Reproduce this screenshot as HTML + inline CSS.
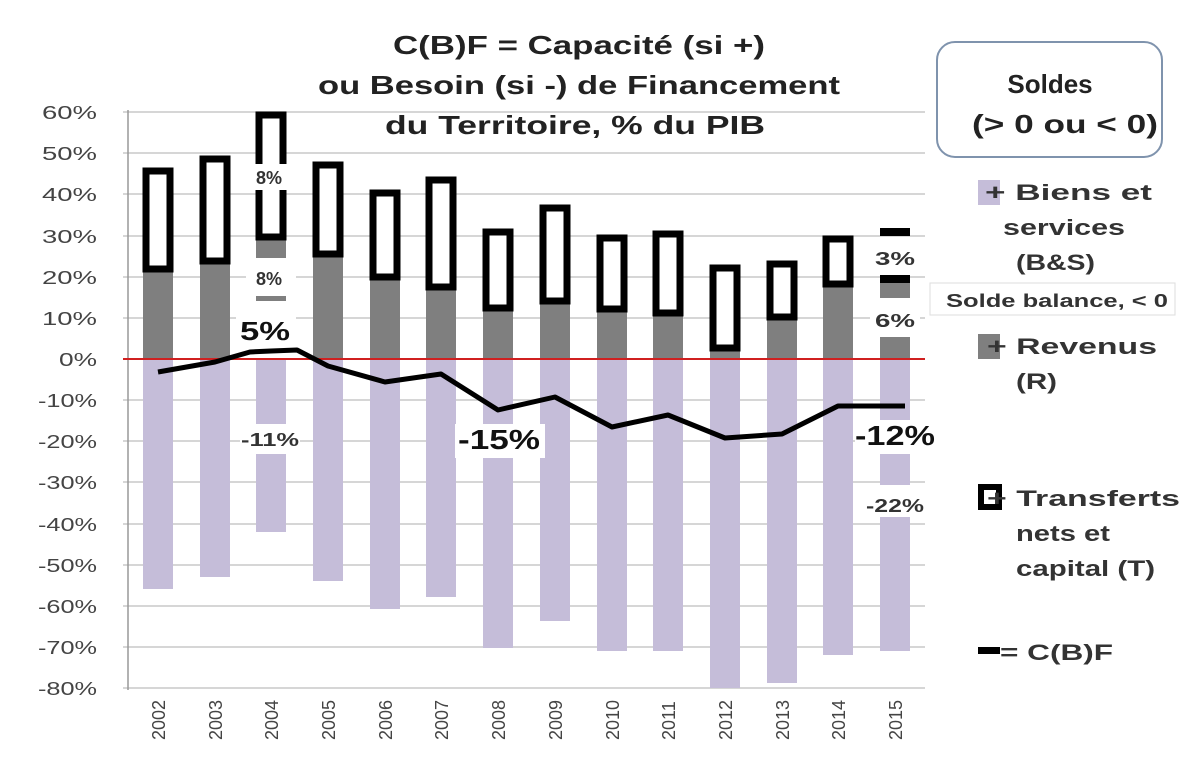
<!DOCTYPE html>
<html><head><meta charset="utf-8"><style>
body{margin:0;background:#fff;}
svg text{font-family:"Liberation Sans",sans-serif;}
</style></head><body>
<svg width="1200" height="772" viewBox="0 0 1200 772" xmlns="http://www.w3.org/2000/svg">
<rect width="1200" height="772" fill="#fff"/>
<g stroke="#c8c8c8" stroke-width="1.5">
<line x1="123" y1="112" x2="925" y2="112"/><line x1="123" y1="153" x2="925" y2="153"/>
<line x1="123" y1="194" x2="925" y2="194"/><line x1="123" y1="236" x2="925" y2="236"/>
<line x1="123" y1="277" x2="925" y2="277"/><line x1="123" y1="318" x2="925" y2="318"/>
<line x1="123" y1="400" x2="925" y2="400"/><line x1="123" y1="441" x2="925" y2="441"/>
<line x1="123" y1="482" x2="925" y2="482"/><line x1="123" y1="524" x2="925" y2="524"/>
<line x1="123" y1="565" x2="925" y2="565"/><line x1="123" y1="606" x2="925" y2="606"/>
<line x1="123" y1="647" x2="925" y2="647"/><line x1="123" y1="688" x2="925" y2="688"/>
</g>
<line x1="128" y1="110" x2="128" y2="690" stroke="#999" stroke-width="1.5"/>
<g font-size="18" fill="#444" text-anchor="end">
<text x="97" y="119" textLength="55" lengthAdjust="spacingAndGlyphs">60%</text><text x="97" y="160" textLength="55" lengthAdjust="spacingAndGlyphs">50%</text><text x="97" y="201" textLength="55" lengthAdjust="spacingAndGlyphs">40%</text>
<text x="97" y="243" textLength="55" lengthAdjust="spacingAndGlyphs">30%</text><text x="97" y="284" textLength="55" lengthAdjust="spacingAndGlyphs">20%</text><text x="97" y="325" textLength="55" lengthAdjust="spacingAndGlyphs">10%</text>
<text x="97" y="366" textLength="38" lengthAdjust="spacingAndGlyphs">0%</text><text x="97" y="407" textLength="59" lengthAdjust="spacingAndGlyphs">-10%</text><text x="97" y="448" textLength="59" lengthAdjust="spacingAndGlyphs">-20%</text>
<text x="97" y="489" textLength="59" lengthAdjust="spacingAndGlyphs">-30%</text><text x="97" y="531" textLength="59" lengthAdjust="spacingAndGlyphs">-40%</text><text x="97" y="572" textLength="59" lengthAdjust="spacingAndGlyphs">-50%</text>
<text x="97" y="613" textLength="59" lengthAdjust="spacingAndGlyphs">-60%</text><text x="97" y="654" textLength="59" lengthAdjust="spacingAndGlyphs">-70%</text><text x="97" y="695" textLength="59" lengthAdjust="spacingAndGlyphs">-80%</text>
</g>
<g fill="#c5bdd9">
<rect x="143" y="359" width="30" height="230"/><rect x="200" y="359" width="30" height="218"/>
<rect x="256" y="359" width="30" height="173"/><rect x="313" y="359" width="30" height="222"/>
<rect x="370" y="359" width="30" height="250"/><rect x="426" y="359" width="30" height="238"/>
<rect x="483" y="359" width="30" height="289"/><rect x="540" y="359" width="30" height="262"/>
<rect x="597" y="359" width="30" height="292"/><rect x="653" y="359" width="30" height="292"/>
<rect x="710" y="359" width="30" height="329"/><rect x="767" y="359" width="30" height="324"/>
<rect x="823" y="359" width="30" height="296"/><rect x="880" y="359" width="30" height="292"/>
</g>
<g fill="#7f7f7f">
<rect x="143" y="272" width="30" height="87"/><rect x="200" y="264" width="30" height="95"/>
<rect x="256" y="240" width="30" height="18"/><rect x="313" y="257" width="30" height="102"/>
<rect x="370" y="280" width="30" height="79"/><rect x="426" y="290" width="30" height="69"/>
<rect x="483" y="311" width="30" height="48"/><rect x="540" y="304" width="30" height="55"/>
<rect x="597" y="312" width="30" height="47"/><rect x="653" y="316" width="30" height="43"/>
<rect x="710" y="351" width="30" height="8"/><rect x="767" y="320" width="30" height="39"/>
<rect x="823" y="287" width="30" height="72"/><rect x="880" y="277" width="30" height="21"/>
<rect x="880" y="337" width="30" height="22"/><rect x="256" y="296" width="30" height="5"/>
</g>
<g fill="#fff" stroke="#000" stroke-width="7">
<rect x="146" y="171" width="24" height="98"/><rect x="203" y="159" width="24" height="102"/>
<rect x="259" y="115" width="24" height="122"/><rect x="316" y="165" width="24" height="89"/>
<rect x="373" y="193" width="24" height="84"/><rect x="429" y="180" width="24" height="107"/>
<rect x="486" y="232" width="24" height="76"/><rect x="543" y="208" width="24" height="93"/>
<rect x="600" y="238" width="24" height="71"/><rect x="656" y="234" width="24" height="79"/>
<rect x="713" y="268" width="24" height="80"/><rect x="770" y="264" width="24" height="53"/>
<rect x="826" y="239" width="24" height="45"/>
</g>
<rect x="880" y="228" width="30" height="8" fill="#000"/>
<rect x="880" y="275" width="30" height="8" fill="#000"/>
<line x1="123" y1="359" x2="925" y2="359" stroke="#d02020" stroke-width="2"/>
<g fill="#fff">
<rect x="246" y="164" width="50" height="26"/><rect x="246" y="266" width="50" height="24"/>
<rect x="236" y="316" width="60" height="32"/><rect x="240" y="424" width="60" height="30"/>
<rect x="455" y="424" width="90" height="34"/><rect x="855" y="420" width="85" height="34"/>
<rect x="860" y="485" width="70" height="32"/><rect x="870" y="246" width="50" height="26"/>
<rect x="870" y="305" width="50" height="28"/>
</g>
<polyline points="158,372 215,362 250,352 271,351 297,350 328,366 385,382 441,374 498,410 555,397 612,427 668,415 725,438 782,434 838,406 905,406" fill="none" stroke="#000" stroke-width="5" stroke-linejoin="round"/>
<g font-weight="bold" fill="#333" text-anchor="middle">
<text x="269" y="184" font-size="18">8%</text><text x="269" y="285" font-size="18">8%</text>
<text x="265" y="340" font-size="26" fill="#111" textLength="50" lengthAdjust="spacingAndGlyphs">5%</text>
<text x="270" y="446" font-size="18" textLength="58" lengthAdjust="spacingAndGlyphs">-11%</text>
<text x="499" y="449" font-size="28" fill="#111" textLength="82" lengthAdjust="spacingAndGlyphs">-15%</text>
<text x="895" y="445" font-size="28" fill="#111" textLength="80" lengthAdjust="spacingAndGlyphs">-12%</text>
<text x="895" y="512" font-size="18" textLength="58" lengthAdjust="spacingAndGlyphs">-22%</text>
<text x="895" y="265" font-size="18" textLength="40" lengthAdjust="spacingAndGlyphs">3%</text>
<text x="895" y="327" font-size="18" textLength="40" lengthAdjust="spacingAndGlyphs">6%</text>
</g>
<g font-size="18" fill="#444">
<text transform="translate(165,740) rotate(-90)">2002</text><text transform="translate(222,740) rotate(-90)">2003</text>
<text transform="translate(278,740) rotate(-90)">2004</text><text transform="translate(335,740) rotate(-90)">2005</text>
<text transform="translate(392,740) rotate(-90)">2006</text><text transform="translate(448,740) rotate(-90)">2007</text>
<text transform="translate(505,740) rotate(-90)">2008</text><text transform="translate(562,740) rotate(-90)">2009</text>
<text transform="translate(619,740) rotate(-90)">2010</text><text transform="translate(675,740) rotate(-90)">2011</text>
<text transform="translate(732,740) rotate(-90)">2012</text><text transform="translate(789,740) rotate(-90)">2013</text>
<text transform="translate(845,740) rotate(-90)">2014</text><text transform="translate(902,740) rotate(-90)">2015</text>
</g>
<g font-size="26" font-weight="bold" fill="#222">
<text x="393" y="54" textLength="372" lengthAdjust="spacingAndGlyphs">C(B)F = Capacité (si +)</text>
<text x="318" y="94" textLength="522" lengthAdjust="spacingAndGlyphs">ou Besoin (si -) de Financement</text>
<text x="385" y="134" textLength="380" lengthAdjust="spacingAndGlyphs">du Territoire, % du PIB</text>
</g>
<rect x="937" y="42" width="225" height="115" rx="18" fill="#fff" stroke="#7f93ad" stroke-width="2"/>
<g font-size="26" font-weight="bold" fill="#222">
<text x="1050" y="93" text-anchor="middle">Soldes</text>
<text x="972" y="133" textLength="186" lengthAdjust="spacingAndGlyphs">(&gt; 0 ou &lt; 0)</text>
</g>
<rect x="978" y="180" width="22" height="25" fill="#c5bdd9"/>
<rect x="978" y="334" width="22" height="25" fill="#7f7f7f"/>
<rect x="981" y="487" width="18" height="20" fill="#fff" stroke="#000" stroke-width="6"/>
<rect x="978" y="647" width="22" height="7" fill="#000"/>
<rect x="930" y="283" width="245" height="32" fill="#fff" stroke="#ddd"/>
<g font-size="22" font-weight="bold" fill="#333">
<text x="985" y="200" textLength="167" lengthAdjust="spacingAndGlyphs">+ Biens et</text>
<text x="1003" y="235" textLength="122" lengthAdjust="spacingAndGlyphs">services</text>
<text x="1016" y="270" textLength="79" lengthAdjust="spacingAndGlyphs">(B&amp;S)</text>
<text x="987" y="354" textLength="170" lengthAdjust="spacingAndGlyphs">+ Revenus</text>
<text x="1016" y="389" textLength="41" lengthAdjust="spacingAndGlyphs">(R)</text>
<text x="987" y="506" textLength="193" lengthAdjust="spacingAndGlyphs">+ Transferts</text>
<text x="1016" y="541" textLength="94" lengthAdjust="spacingAndGlyphs">nets et</text>
<text x="1016" y="576" textLength="139" lengthAdjust="spacingAndGlyphs">capital (T)</text>
<text x="1000" y="660" textLength="113" lengthAdjust="spacingAndGlyphs">= C(B)F</text>
<text x="946" y="307" font-size="18" textLength="222" lengthAdjust="spacingAndGlyphs">Solde balance, &lt; 0</text>
</g>
</svg>
</body></html>
